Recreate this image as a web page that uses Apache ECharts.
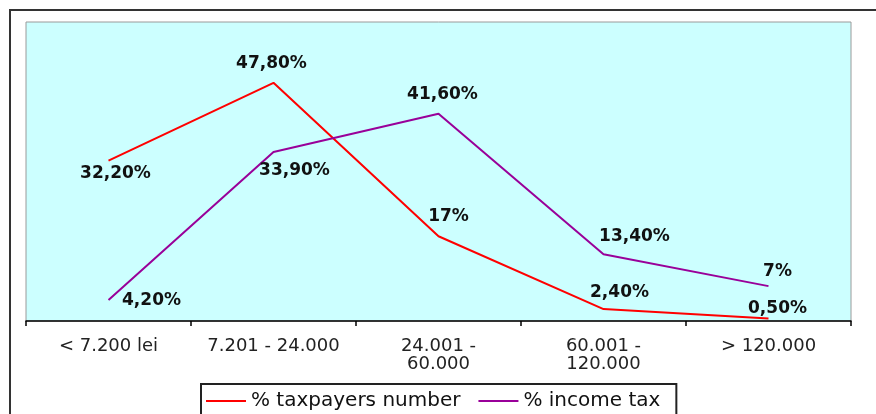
<!DOCTYPE html>
<html>
<head>
<meta charset="utf-8">
<script src="https://cdn.jsdelivr.net/npm/echarts@6/dist/echarts.min.js"></script>
<style>
  html, body { margin: 0; padding: 0; background: #ffffff; }
  #chart { width: 876px; height: 414px; }
</style>
</head>
<body>
<div id="chart"></div>
<script>
// Income brackets (lei) and the two distributions, in percent
const categories = ['< 7.200 lei', '7.201 - 24.000', '24.001 -\n60.000', '60.001 -\n120.000', '> 120.000'];
const taxpayersShare = [32.2, 47.8, 17, 2.4, 0.5];
const incomeTaxShare = [4.2, 33.9, 41.6, 13.4, 7];
const seriesNames = ['% taxpayers number', '% income tax'];

// Where each value label sits relative to its point (dx, dy in px)
const taxpayersLabelShift = [[7, 13], [-2, -19], [10, -20], [16, -16], [9, -10]];
const incomeTaxLabelShift = [[43, 1], [21, 19], [4, -19], [31, -18], [9, -15]];

const RED = '#ff0000';
const PURPLE = '#990099';

// 47.8 -> "47,80%", 17 -> "17%"
function pct(v) {
  return (Number.isInteger(v) ? String(v) : v.toFixed(2).replace('.', ',')) + '%';
}

function pointsWithLabels(values, shifts) {
  return values.map((v, i) => ({
    value: v,
    label: { position: 'inside', offset: shifts[i] }
  }));
}

const labelStyle = {
  show: true,
  formatter: p => pct(p.value),
  fontFamily: 'DejaVu Sans',
  fontWeight: 'bold',
  fontSize: 17,
  color: '#111111'
};

function lineSeries(name, color, values, shifts) {
  return {
    name: name,
    type: 'line',
    data: pointsWithLabels(values, shifts),
    symbol: 'circle',
    symbolSize: 2,
    itemStyle: { color: 'rgba(0,0,0,0)', borderWidth: 0 },
    lineStyle: { color: color, width: 2 },
    label: labelStyle,
    emphasis: { disabled: true },
    animation: false,
    z: 3
  };
}

const chart = echarts.init(document.getElementById('chart'), null, { renderer: 'canvas' });

chart.setOption({
  backgroundColor: '#ffffff',
  animation: false,
  graphic: [{
    type: 'rect',
    shape: { x: 10, y: 10, width: 900, height: 500 },
    style: { fill: 'none', stroke: '#333333', lineWidth: 2 },
    silent: true,
    z: -1
  }],
  grid: {
    left: 26, right: 25, top: 22, bottom: 93,
    show: true,
    backgroundColor: '#ccffff',
    borderColor: '#9a9a9a',
    borderWidth: 1
  },
  legend: {
    left: 201,
    top: 384,
    orient: 'horizontal',
    padding: [7, 16, 10, 5],
    borderColor: '#222222',
    borderWidth: 2,
    borderRadius: 0,
    backgroundColor: '#ffffff',
    icon: 'rect',
    itemWidth: 40,
    itemHeight: 2,
    itemGap: 18,
    selectedMode: false,
    textStyle: { fontFamily: 'DejaVu Sans', fontSize: 20, color: '#111111', lineHeight: 20 },
    data: [
      { name: seriesNames[0], itemStyle: { color: RED } },
      { name: seriesNames[1], itemStyle: { color: PURPLE } }
    ]
  },
  xAxis: {
    type: 'category',
    data: categories,
    boundaryGap: true,
    axisLine: { show: true, lineStyle: { color: '#000000', width: 1.5 } },
    axisTick: { show: true, length: 5, lineStyle: { color: '#000000', width: 1.5 } },
    axisLabel: {
      margin: 16,
      fontFamily: 'DejaVu Sans',
      fontSize: 18,
      lineHeight: 18,
      color: '#222222',
      interval: 0
    },
    splitLine: { show: false },
    z: 5
  },
  yAxis: {
    type: 'value',
    min: 0,
    max: 60,
    interval: 10,
    show: false,
    splitLine: { show: false }
  },
  series: [
    lineSeries(seriesNames[0], RED, taxpayersShare, taxpayersLabelShift),
    lineSeries(seriesNames[1], PURPLE, incomeTaxShare, incomeTaxLabelShift)
  ]
});
</script>
</body>
</html>
